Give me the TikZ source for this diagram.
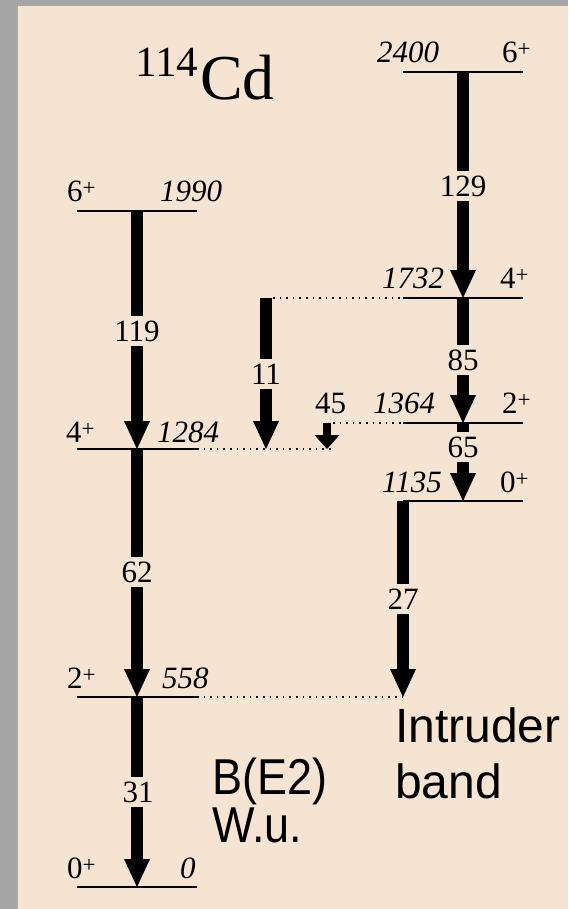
\documentclass[tikz,border=0pt]{standalone}
\usepackage{fontspec}
\usepackage{graphicx}
\setmainfont{Liberation Serif}
\newfontfamily\arialf{Liberation Sans}
\usetikzlibrary{arrows.meta}
\definecolor{bg}{RGB}{245,228,210}
\definecolor{framegray}{RGB}{166,166,166}
\newcommand\plusup{\raisebox{6pt}{\fontsize{23}{23}\selectfont +}}
\begin{document}
\begin{tikzpicture}[x=1pt,y=-1pt,
  lvl/.style={line width=2pt},
  gam/.style={line width=12pt,-{Triangle[width=26pt,length=28pt,line width=0pt]}},
  gsmall/.style={line width=8pt,-{Triangle[width=25pt,length=14pt,line width=0pt]}},
  dots/.style={line width=1.6pt,dash pattern=on 1.6pt off 5pt},
  lab/.style={inner sep=0pt,anchor=base west,font=\fontsize{31}{31}\selectfont},
  en/.style={inner sep=0pt,anchor=base west,font=\fontsize{31}{31}\selectfont\itshape},
  val/.style={fill=bg,inner xsep=1pt,inner ysep=5pt,font=\fontsize{31}{31}\selectfont},
  sansbig/.style={inner sep=0pt,anchor=base west,font=\fontsize{48}{48}\selectfont\arialf},
  sansmid/.style={inner sep=0pt,anchor=base west,font=\fontsize{45}{45}\selectfont\arialf}]
\useasboundingbox (0,0) rectangle (568,909);
\fill[framegray] (0,0) rectangle (568,909);
\fill[bg] (18,6) rectangle (568,909);

% level positions
\coordinate (g6) at (137,211);
\coordinate (g4) at (137,449);
\coordinate (g2) at (137,697);
\coordinate (g0) at (137,887);
\coordinate (i6) at (463,72);
\coordinate (i4) at (463,298);
\coordinate (i2) at (463,423);
\coordinate (i0) at (463,501);
\coordinate (t11a) at (266,298);
\coordinate (t11b) at (266,449);
\coordinate (t45a) at (327,423);
\coordinate (t45b) at (327,449);
\coordinate (t27a) at (403,501);
\coordinate (t27b) at (403,697);

% level lines
\foreach \l in {g6,g4,g2,g0,i6,i4,i2,i0}
  \draw[lvl] ([xshift=-60pt]\l) -- ([xshift=60pt]\l);

% dotted links
\draw[dots] ([xshift=7pt]t11a) -- ([xshift=-60pt]i4);
\draw[dots] ([xshift=60pt]g4) -- ([xshift=6pt]t45b);
\draw[dots] ([xshift=6pt]t45a) -- ([xshift=-60pt]i2);
\draw[dots] ([xshift=60pt]g2) -- (t27b);

% transitions
\draw[gam] (g6) -- (g4);
\draw[gam] (g4) -- (g2);
\draw[gam] (g2) -- (g0);
\draw[gam] (i6) -- (i4);
\draw[gam] (i4) -- (i2);
\draw[gam] (i2) -- (i0);
\draw[gam] (t11a) -- (t11b);
\draw[gsmall] (t45a) -- (t45b);
\draw[gam] (t27a) -- (t27b);

% B(E2) values
\node[val] (v129) at (463,186) {129};
\node[val] (v119) at (137,331) {119};
\node[val] (v11) at (266,374) {11};
\node[val] (v85) at (463,360) {85};
\node[val] (v65) at (463,447) {65};
\node[val] (v62) at (137,572) {62};
\node[val] (v27) at (403,599) {27};
\node[val] (v31) at (138,792) {31};
\node[lab] (v45) at (315,413) {45};

% level labels
\node[lab] (s6g) at (67,202) {6\plusup};
\node[en] (e6g) at (160,202) {1990};
\node[lab] (s4g) at (66,442) {4\plusup};
\node[en] (e4g) at (157,442) {1284};
\node[lab] (s2g) at (67,688) {2\plusup};
\node[en] (e2g) at (162,688) {558};
\node[lab] (s0g) at (67,878) {0\plusup};
\node[en] (e0g) at (180,878) {0};
\node[en] (e6i) at (377,63) {2400};
\node[lab] (s6i) at (502,63) {6\plusup};
\node[en] (e4i) at (382,288) {1732};
\node[lab] (s4i) at (500,288) {4\plusup};
\node[en] (e2i) at (373,413) {1364};
\node[lab] (s2i) at (502,413) {2\plusup};
\node[en] (e0i) at (382,492) {1135};
\node[lab] (s0i) at (500,492) {0\plusup};

% title
\node[inner sep=0pt,anchor=base west,font=\fontsize{43}{43}\selectfont] (mass) at (135,77) {114};
\node[inner sep=0pt,anchor=base west,font=\fontsize{64}{64}\selectfont] (elem) at (200,100) {Cd};

% captions
\node[sansmid] (be2) at (212,794) {\scalebox{1}[1.12]{B(E2)}};
\node[sansmid] (wu) at (212,842) {\scalebox{1}[1.12]{W.u.}};
\node[sansbig] (intr) at (395,742) {Intruder};
\node[sansbig] (band) at (395,798) {band};
\end{tikzpicture}
\end{document}
